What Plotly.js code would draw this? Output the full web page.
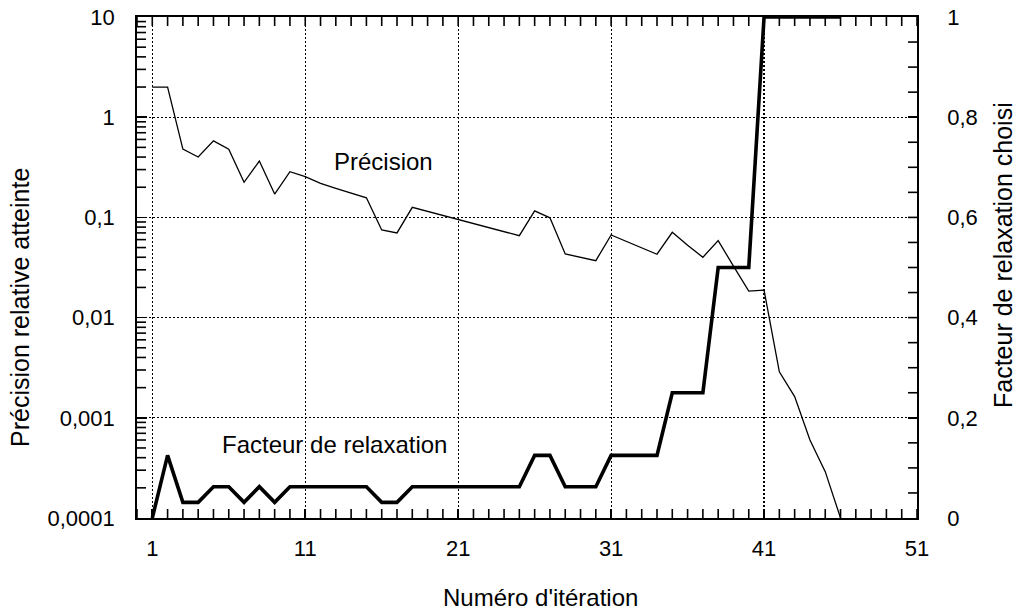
<!DOCTYPE html>
<html>
<head>
<meta charset="utf-8">
<script src="https://cdn.plot.ly/plotly-3.0.1.min.js"></script>
<style>
  html, body { margin: 0; padding: 0; background: #ffffff; }
  #chart { width: 1030px; height: 612px; }
</style>
</head>
<body>
<div id="chart"></div>
<script>
// ---- Data ----
const iterations = [1,2,3,4,5,6,7,8,9,10,11,12,13,14,15,16,17,18,19,20,21,22,23,24,25,26,27,28,29,30,31,32,33,34,35,36,37,38,39,40,41,42,43,44,45,46];

const precision = [2, 2, 0.48, 0.40, 0.58, 0.48, 0.224, 0.365, 0.171, 0.286,
  0.255, 0.219, 0.195, 0.175, 0.157, 0.075, 0.070, 0.126, 0.115, 0.105,
  0.095, 0.0865, 0.079, 0.072, 0.0657, 0.116, 0.099, 0.0432, 0.040, 0.037,
  0.0667, 0.0575, 0.0497, 0.0429, 0.071, 0.0526, 0.040, 0.0587, 0.0326, 0.0184,
  0.0188, 0.00288, 0.00163, 0.0006, 0.00029, 0.0001];

const relaxation = [0, 0.125, 0.03125, 0.03125, 0.0625, 0.0625, 0.03125, 0.0625, 0.03125, 0.0625,
  0.0625, 0.0625, 0.0625, 0.0625, 0.0625, 0.03125, 0.03125, 0.0625, 0.0625, 0.0625,
  0.0625, 0.0625, 0.0625, 0.0625, 0.0625, 0.125, 0.125, 0.0625, 0.0625, 0.0625,
  0.125, 0.125, 0.125, 0.125, 0.25, 0.25, 0.25, 0.5, 0.5, 0.5,
  1, 1, 1, 1, 1, 1];

const xTickVals = [1, 11, 21, 31, 41, 51];
const xTickText = ['1', '11', '21', '31', '41', '51'];
const yTickVals = [10, 1, 0.1, 0.01, 0.001, 0.0001];
const yTickText = ['10', '1', '0,1', '0,01', '0,001', '0,0001'];
const y2TickVals = [0, 0.2, 0.4, 0.6, 0.8, 1];
const y2TickText = ['0', '0,2', '0,4', '0,6', '0,8', '1'];

const labelPrecision = 'Précision';
const labelRelaxation = 'Facteur de relaxation';
const titleX = "Numéro d'itération";
const titleY = 'Précision relative atteinte';
const titleY2 = 'Facteur de relaxation choisi';

// ---- Layout geometry (pixels) ----
const W = 1030, H = 612;
const M = { l: 137, r: 113, t: 17, b: 94 };
const PW = W - M.l - M.r, PH = H - M.t - M.b;
const px = x => (x - M.l) / PW;          // pixel -> paper x
const py = y => 1 - (y - M.t) / PH;      // pixel -> paper y

const FONT = 'Liberation Sans, Arial, Helvetica, sans-serif';
const tickFont = { family: FONT, size: 22, color: '#000' };
const textFont = { family: FONT, size: 24, color: '#000' };
const titleFont = { family: FONT, size: 25, color: '#000' };
const DASH = '2px,2px';

// ---- Minor tick marks, drawn as small line shapes on the frame ----
const TL = 9; // tick length in px
const tickLine = { color: '#000', width: 1.6 };
const shapes = [];
for (let i = 0; i <= 51; i++) {
  shapes.push({ type: 'line', xref: 'x', yref: 'paper', x0: i, x1: i, y0: 0, y1: TL / PH, line: tickLine, layer: 'above' });
  shapes.push({ type: 'line', xref: 'x', yref: 'paper', x0: i, x1: i, y0: 1 - TL / PH, y1: 1, line: tickLine, layer: 'above' });
}
for (let e = -4; e <= 0; e++) {
  for (let k = 2; k <= 9; k++) {
    const v = k * Math.pow(10, e);
    shapes.push({ type: 'line', xref: 'paper', yref: 'y', x0: 0, x1: TL / PW, y0: v, y1: v, line: tickLine, layer: 'above' });
  }
}
for (let i = 1; i < 20; i++) {
  const v = i * 0.05;
  shapes.push({ type: 'line', xref: 'paper', yref: 'y2', x0: 1 - TL / PW, x1: 1, y0: v, y1: v, line: tickLine, layer: 'above' });
}

const traces = [
  {
    x: iterations, y: precision, type: 'scatter', mode: 'lines',
    name: labelPrecision, yaxis: 'y',
    line: { color: '#000', width: 1.3 }
  },
  {
    x: iterations, y: relaxation, type: 'scatter', mode: 'lines',
    name: labelRelaxation, yaxis: 'y2',
    line: { color: '#000', width: 3.6 }
  }
];

const layout = {
  width: W, height: H,
  margin: M,
  paper_bgcolor: '#fff', plot_bgcolor: '#fff',
  showlegend: false,
  font: textFont,
  xaxis: {
    range: [0, 51], type: 'linear',
    tickmode: 'array', tickvals: xTickVals, ticktext: xTickText,
    ticks: 'inside', ticklen: 9, tickwidth: 1.6, tickcolor: '#000',
    showline: true, linecolor: '#000', linewidth: 1.8, mirror: true,
    showgrid: true, gridcolor: '#000', griddash: DASH, gridwidth: 1.2,
    zeroline: false,
    tickfont: tickFont, ticklabelstandoff: 10
  },
  yaxis: {
    type: 'log', range: [-4, 1],
    tickmode: 'array', tickvals: yTickVals, ticktext: yTickText,
    ticks: 'inside', ticklen: 10, tickwidth: 1.6, tickcolor: '#000',
    showline: true, linecolor: '#000', linewidth: 1.8,
    showgrid: true, gridcolor: '#000', griddash: DASH, gridwidth: 1.2,
    zeroline: false,
    tickfont: tickFont, ticklabelstandoff: 16
  },
  yaxis2: {
    overlaying: 'y', side: 'right', range: [0, 1],
    tickmode: 'array', tickvals: y2TickVals, ticktext: y2TickText,
    ticks: 'inside', ticklen: 9, tickwidth: 1.6, tickcolor: '#000',
    showline: true, linecolor: '#000', linewidth: 1.8,
    showgrid: false, zeroline: false,
    tickfont: tickFont, ticklabelstandoff: 24
  },
  shapes: shapes,
  annotations: [
    { text: labelPrecision, xref: 'paper', yref: 'paper', x: px(383), y: py(161),
      showarrow: false, xanchor: 'center', yanchor: 'middle', font: textFont },
    { text: labelRelaxation, xref: 'paper', yref: 'paper', x: px(334), y: py(444),
      showarrow: false, xanchor: 'center', yanchor: 'middle', font: textFont },
    { text: titleX, xref: 'paper', yref: 'paper', x: px(540), y: py(597),
      showarrow: false, xanchor: 'center', yanchor: 'middle', font: textFont },
    { text: titleY, xref: 'paper', yref: 'paper', x: px(20), y: py(308), textangle: -90,
      showarrow: false, xanchor: 'center', yanchor: 'middle', font: titleFont },
    { text: titleY2, xref: 'paper', yref: 'paper', x: px(1003), y: py(255), textangle: -90,
      showarrow: false, xanchor: 'center', yanchor: 'middle', font: titleFont }
  ]
};

Plotly.newPlot('chart', traces, layout, { staticPlot: true, displayModeBar: false });
</script>
</body>
</html>
